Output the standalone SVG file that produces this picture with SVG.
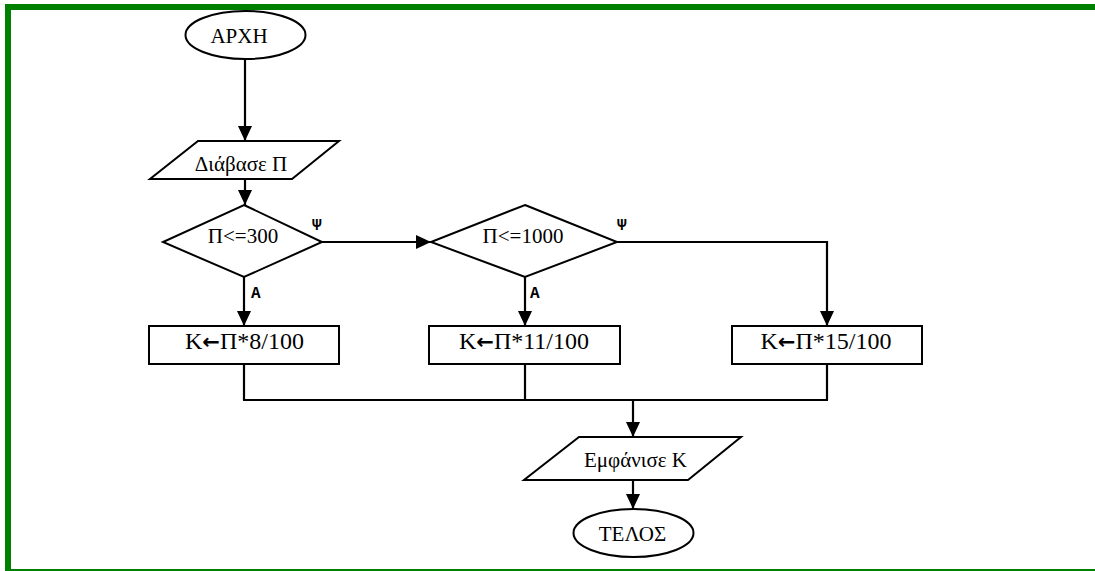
<svg xmlns="http://www.w3.org/2000/svg" width="1095" height="571" viewBox="0 0 1095 571">
<style>
.sh{fill:#fff;stroke:#000;stroke-width:2}
.ln{fill:none;stroke:#000;stroke-width:2.2}
.t{font-size:21px;fill:#000;text-anchor:middle}
.bx{font-size:24px}
.lb{font-size:16px;font-weight:bold;fill:#000}
.ar{font-family:'DejaVu Sans',sans-serif;font-weight:bold;font-size:21px}
</style>
<defs>
<marker id="ar" markerUnits="userSpaceOnUse" markerWidth="15" markerHeight="14" refX="15" refY="7" orient="auto">
<path d="M0,0 L15,7 L0,14 z" fill="#000"/>
</marker>
</defs>
<rect x="0" y="0" width="1095" height="571" fill="#fff"/>
<g id="border" fill="#008000">
<rect x="5" y="4" width="1090" height="6"/>
<rect x="5" y="4" width="6" height="567"/>
<rect x="11" y="569" width="1084" height="2"/>
</g>
<g id="connectors">
<line class="ln" x1="245" y1="59" x2="245" y2="141" marker-end="url(#ar)"/>
<line class="ln" x1="245" y1="179" x2="245" y2="205" marker-end="url(#ar)"/>
<line class="ln" x1="244" y1="277" x2="244" y2="326" marker-end="url(#ar)"/>
<line class="ln" x1="322" y1="242" x2="431" y2="242" marker-end="url(#ar)"/>
<line class="ln" x1="525" y1="277" x2="525" y2="326" marker-end="url(#ar)"/>
<polyline class="ln" points="617,242 827,242 827,326" marker-end="url(#ar)"/>
<line class="ln" x1="244" y1="364" x2="244" y2="400"/>
<line class="ln" x1="525" y1="364" x2="525" y2="400"/>
<line class="ln" x1="827" y1="364" x2="827" y2="400"/>
<line class="ln" x1="243" y1="400" x2="828" y2="400"/>
<line class="ln" x1="633" y1="400" x2="633" y2="437" marker-end="url(#ar)"/>
<line class="ln" x1="633" y1="480" x2="633" y2="509" marker-end="url(#ar)"/>
<g font-family="Liberation Mono, Courier New, DejaVu Sans Mono, monospace">
<text class="lb" x="312" y="230">Ψ</text>
<text class="lb" x="251" y="298">Α</text>
<text class="lb" x="617" y="230">Ψ</text>
<text class="lb" x="530" y="298">Α</text>
</g>
</g>
<g font-family="Liberation Serif, Times New Roman, DejaVu Serif, serif">
<g id="start">
<ellipse class="sh" cx="245.5" cy="35" rx="60" ry="24"/>
<text class="t" x="239" y="43" font-size="23">ΑΡΧΗ</text>
</g>
<g id="read">
<polygon class="sh" points="198,141 339,141 292,179 150,179"/>
<text class="t" x="241" y="171">Διάβασε Π</text>
</g>
<g id="cond1">
<polygon class="sh" points="244,205 322,242 244,277 163,242"/>
<text class="t" x="243" y="243">Π&lt;=300</text>
</g>
<g id="cond2">
<polygon class="sh" points="525,205 617,242 525,277 431,242"/>
<text class="t" x="523" y="243">Π&lt;=1000</text>
</g>
<g id="box1">
<rect class="sh" x="149" y="326" width="190" height="38"/>
<text class="t bx" x="244.5" y="349">Κ<tspan class="ar">←</tspan>Π*8/100</text>
</g>
<g id="box2">
<rect class="sh" x="429" y="326" width="191" height="38"/>
<text class="t bx" x="524" y="349">Κ<tspan class="ar">←</tspan>Π*11/100</text>
</g>
<g id="box3">
<rect class="sh" x="732" y="326" width="190" height="38"/>
<text class="t bx" x="826" y="349">Κ<tspan class="ar">←</tspan>Π*15/100</text>
</g>
<g id="print">
<polygon class="sh" points="579,437 741,437 688,480 524,480"/>
<text class="t" x="635.5" y="467">Εμφάνισε Κ</text>
</g>
<g id="end">
<ellipse class="sh" cx="633.5" cy="533" rx="60" ry="24"/>
<text class="t" x="632.5" y="541" font-size="23">ΤΕΛΟΣ</text>
</g>
</g>
</svg>
